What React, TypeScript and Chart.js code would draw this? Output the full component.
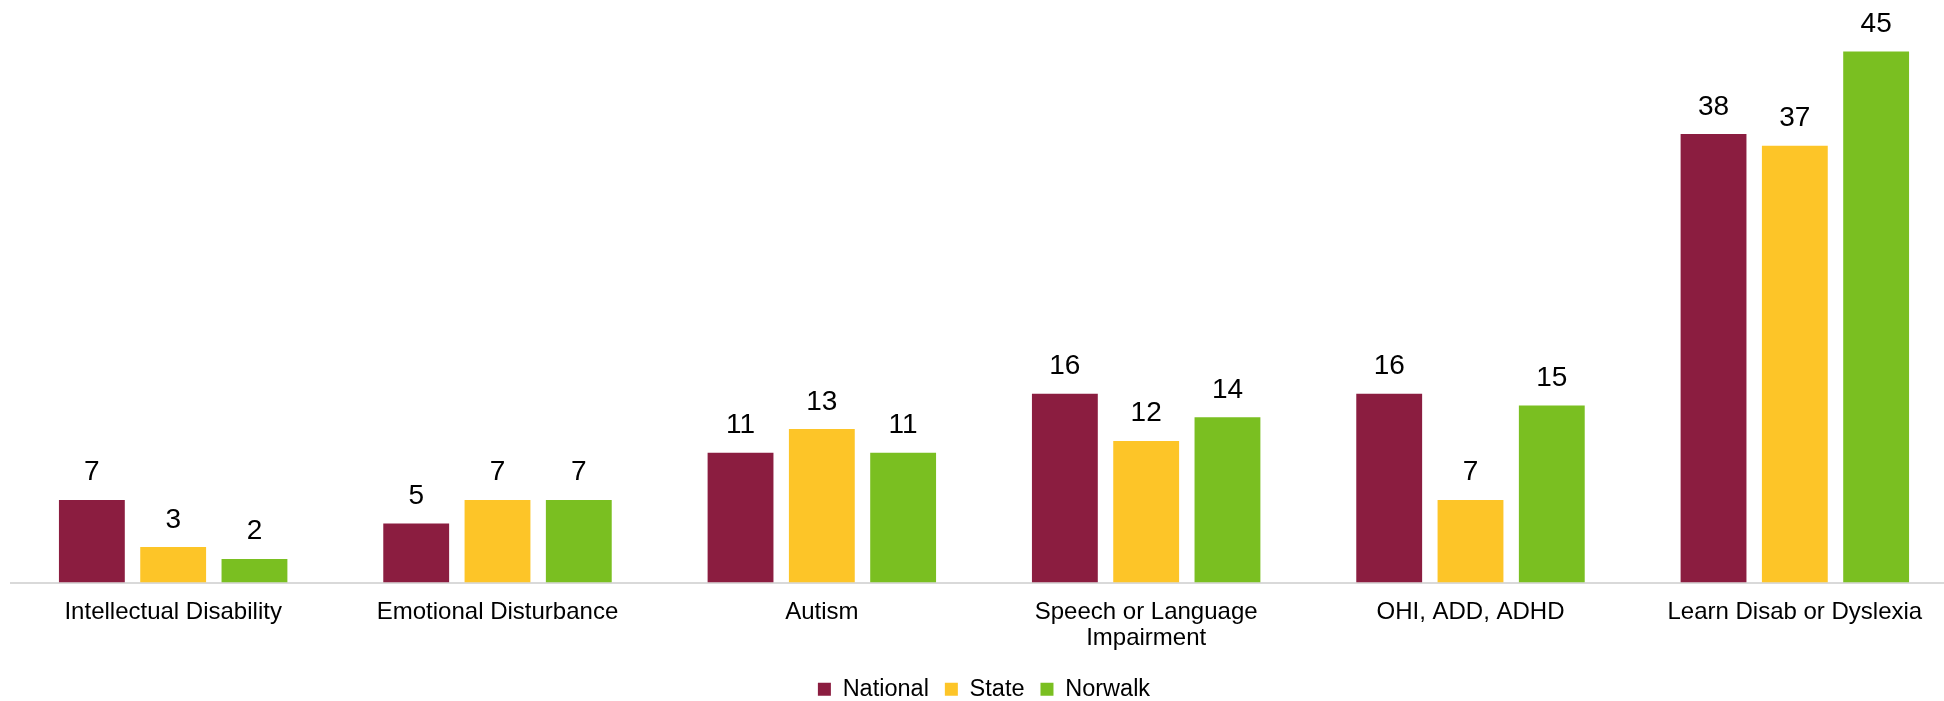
import React, { useEffect, useRef } from "react";
import { Chart, registerables } from "chart.js";

Chart.register(...registerables);

const categories: (string | string[])[] = [
  "Intellectual Disability",
  "Emotional Disturbance",
  "Autism",
  ["Speech or Language", "Impairment"],
  "OHI, ADD, ADHD",
  "Learn Disab or Dyslexia",
];
const nationalValues = [7, 5, 11, 16, 16, 38];
const stateValues = [3, 7, 13, 12, 7, 37];
const norwalkValues = [2, 7, 11, 14, 15, 45];
const seriesNames = ["National", "State", "Norwalk"];
const seriesColors = ["#8B1D40", "#FDC528", "#7ABF21"];

const FONT = "'Liberation Sans', Arial, sans-serif";

const valueLabels = {
  id: "valueLabels",
  afterDatasetsDraw(chart: any) {
    const ctx = chart.ctx;
    ctx.save();
    ctx.font = `28px ${FONT}`;
    ctx.fillStyle = "#000000";
    ctx.textAlign = "center";
    ctx.textBaseline = "alphabetic";
    chart.data.datasets.forEach((ds: any, di: number) => {
      const meta = chart.getDatasetMeta(di);
      meta.data.forEach((bar: any, i: number) => {
        ctx.fillText(String(ds.data[i]), bar.x, bar.y - 19.5);
      });
    });
    ctx.restore();
  },
};

export default function App() {
  const ref = useRef<HTMLCanvasElement>(null);
  useEffect(() => {
    if (!ref.current) return;
    const data = [nationalValues, stateValues, norwalkValues];
    const chart = new Chart(ref.current, {
      type: "bar",
      data: {
        labels: categories,
        datasets: seriesNames.map((name, i) => ({
          label: name,
          data: data[i],
          backgroundColor: seriesColors[i],
          borderWidth: 0,
          barPercentage: 0.81,
          categoryPercentage: 0.752,
        })),
      },
      options: {
        animation: false,
        responsive: false,
        devicePixelRatio: 1,
        layout: { padding: { left: 11, right: 23, top: 16, bottom: 0 } },
        plugins: {
          tooltip: { enabled: false },
          legend: {
            position: "bottom",
            labels: {
              boxWidth: 13,
              boxHeight: 13,
              padding: 16,
              color: "#000000",
              font: { family: FONT, size: 23.5 },
            },
          },
        },
        scales: {
          x: {
            grid: { display: false, drawTicks: false },
            border: { display: true, color: "#D9D9D9", width: 2 },
            ticks: {
              color: "#000000",
              padding: 16.5,
              maxRotation: 0,
              autoSkip: false,
              font: { family: FONT, size: 24, lineHeight: 1.09 },
            },
            afterFit(scale: any) {
              scale.height = 79;
            },
          },
          y: {
            display: false,
            min: 0,
            max: 48,
          },
        },
      },
      plugins: [valueLabels],
    });
    return () => chart.destroy();
  }, []);

  return (
    <div
      style={{
        position: "fixed",
        left: 0,
        top: 0,
        width: 1944,
        height: 701,
        overflow: "hidden",
        background: "#ffffff",
      }}
    >
      <canvas
        ref={ref}
        width={1980}
        height={711}
        style={{ display: "block", width: 1980, height: 711 }}
      />
    </div>
  );
}
